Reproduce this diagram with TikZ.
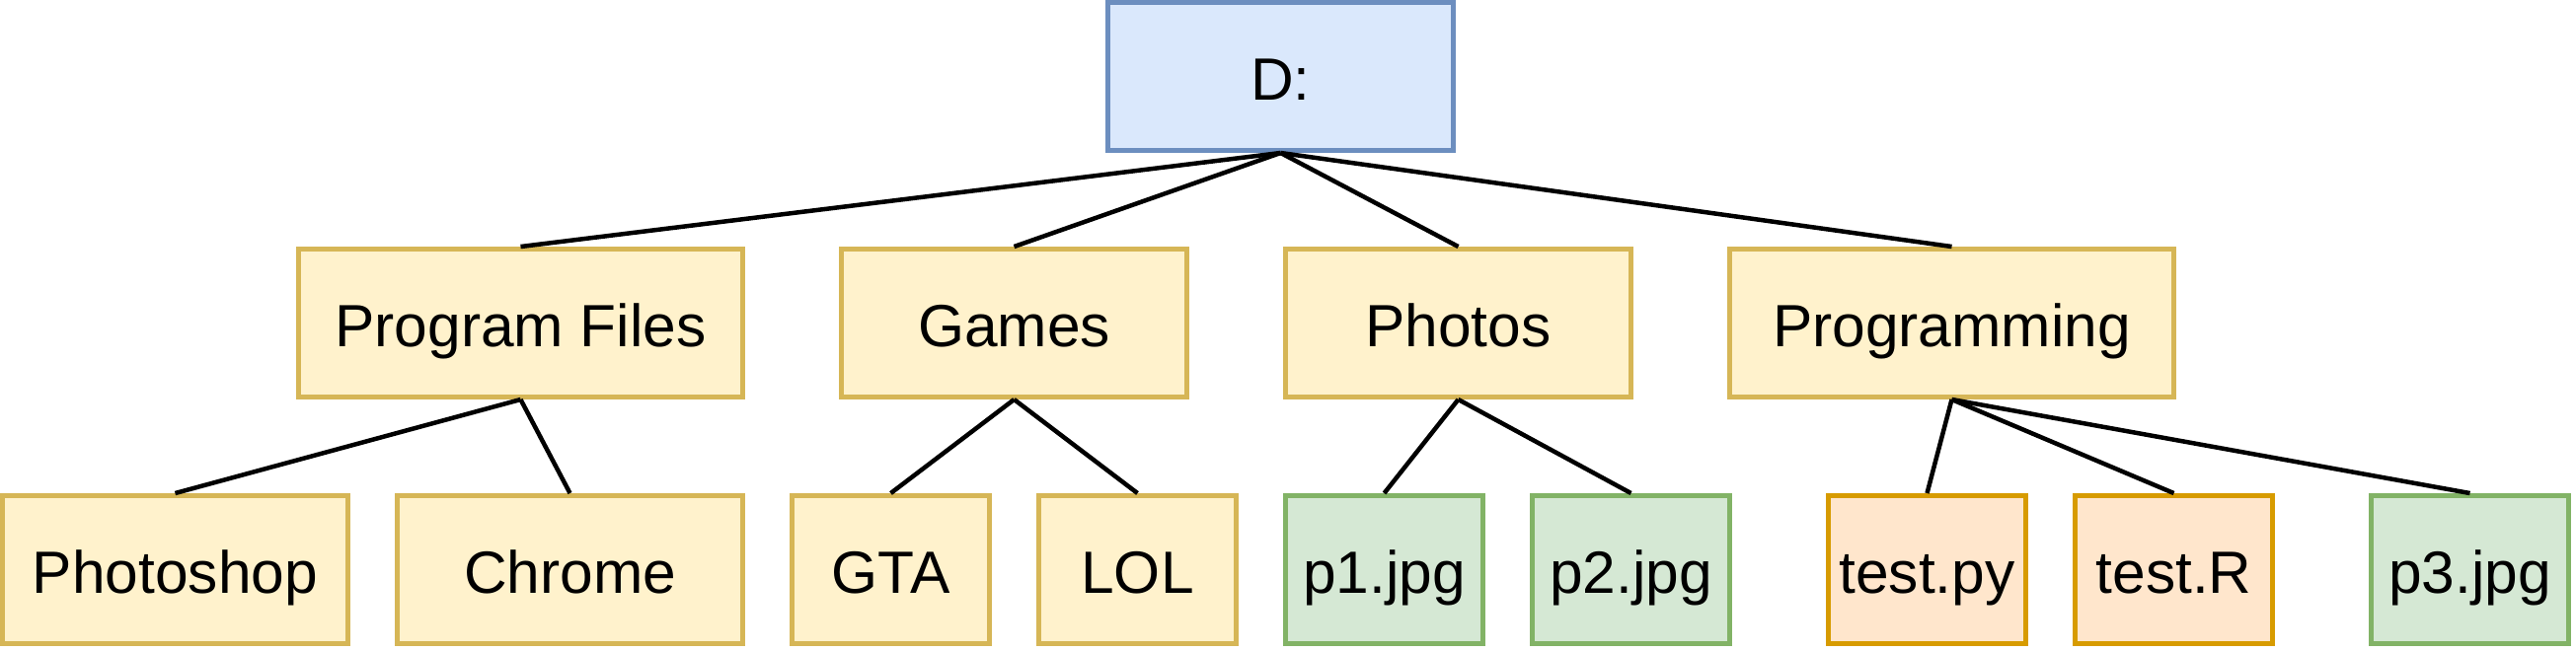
\documentclass[tikz,border=0pt]{standalone}
\usepackage{fontspec}
\setmainfont{Liberation Sans}
\usetikzlibrary{positioning}
\definecolor{DriveBlue}{HTML}{DAE8FC}
\definecolor{DriveBlueLine}{HTML}{6C8EBF}
\definecolor{FolderYellow}{HTML}{FFF2CC}
\definecolor{FolderYellowLine}{HTML}{D6B656}
\definecolor{PhotoGreen}{HTML}{D5E8D4}
\definecolor{PhotoGreenLine}{HTML}{82B366}
\definecolor{CodeOrange}{HTML}{FFE6CC}
\definecolor{CodeOrangeLine}{HTML}{D79B00}

\begin{document}
\begin{tikzpicture}[
        box/.style={line width=0.05cm, inner sep=0pt, minimum height=1.5cm, text height=0.47cm, text depth=0pt, font=\fontsize{17.2pt}{20pt}\selectfont},
        drive/.style={box, fill=DriveBlue, draw=DriveBlueLine, minimum width=3.5cm},
        folder/.style={box, fill=FolderYellow, draw=FolderYellowLine},
        image/.style={box, fill=PhotoGreen, draw=PhotoGreenLine, minimum width=2cm},
        script/.style={box, fill=CodeOrange, draw=CodeOrangeLine, minimum width=2cm},
        link/.style={line width=0.045cm, draw=black}
      ]
        \useasboundingbox (0,0) rectangle (26.1,-6.6);
        % root
        \node[drive] (drive) at (12.975,-0.775) {D:};
        % folders
        \node[folder, minimum width=4.5cm] (progfiles) at (5.275,-3.275) {Program Files};
        \node[folder, minimum width=3.5cm] (games) at (10.275,-3.275) {Games};
        \node[folder, minimum width=3.5cm] (photos) at (14.775,-3.275) {Photos};
        \node[folder, minimum width=4.5cm] (programming) at (19.775,-3.275) {Programming};
        % leaves
        \node[folder, minimum width=3.5cm] (photoshop) at (1.775,-5.775) {Photoshop};
        \node[folder, minimum width=3.5cm] (chrome) at (5.775,-5.775) {Chrome};
        \node[folder, minimum width=2cm] (gta) at (9.025,-5.775) {GTA};
        \node[folder, minimum width=2cm] (lol) at (11.525,-5.775) {LOL};
        \node[image] (pone) at (14.025,-5.775) {p1.jpg};
        \node[image] (ptwo) at (16.525,-5.775) {p2.jpg};
        \node[script] (testpy) at (19.525,-5.775) {test.py};
        \node[script] (testr) at (22.025,-5.775) {test.R};
        \node[image] (pthree) at (25.025,-5.775) {p3.jpg};
        \draw[link] (drive.south) -- (progfiles.north);
        \draw[link] (drive.south) -- (games.north);
        \draw[link] (drive.south) -- (photos.north);
        \draw[link] (drive.south) -- (programming.north);
        \draw[link] (progfiles.south) -- (photoshop.north);
        \draw[link] (progfiles.south) -- (chrome.north);
        \draw[link] (games.south) -- (gta.north);
        \draw[link] (games.south) -- (lol.north);
        \draw[link] (photos.south) -- (pone.north);
        \draw[link] (photos.south) -- (ptwo.north);
        \draw[link] (programming.south) -- (testpy.north);
        \draw[link] (programming.south) -- (testr.north);
        \draw[link] (programming.south) -- (pthree.north);
      \end{tikzpicture}
\end{document}
